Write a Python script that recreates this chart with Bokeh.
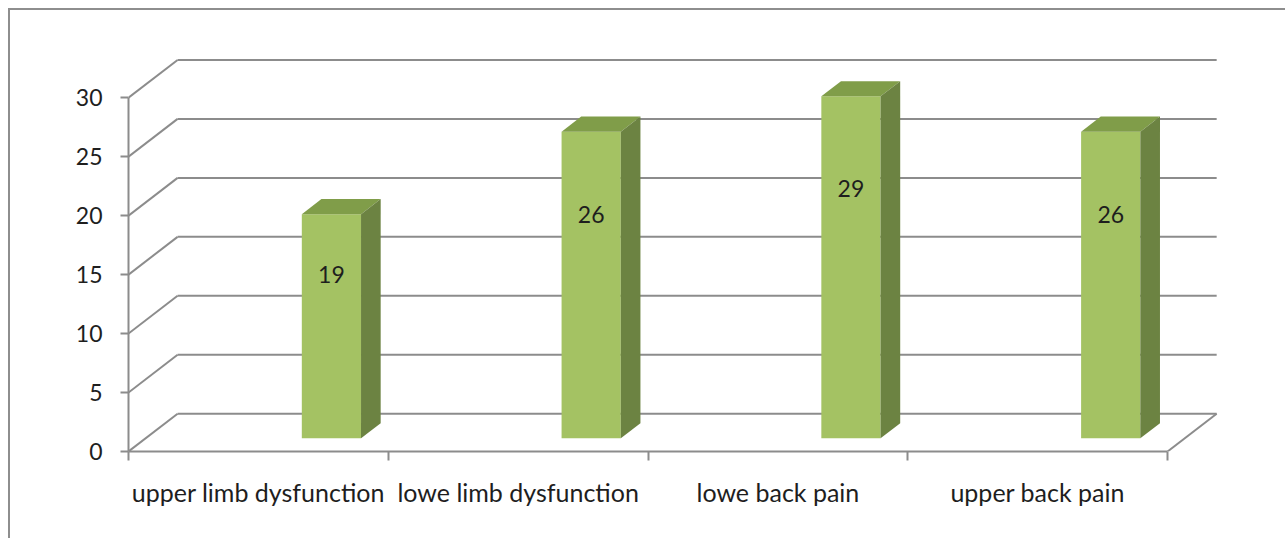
import numpy as np
from bokeh.plotting import figure
from bokeh.models import Range1d, FixedTicker
from bokeh.core.properties import value
from bokeh.embed import file_html
from bokeh.resources import INLINE

# ---- data ----
categories = ["upper limb dysfunction", "lowe limb dysfunction", "lowe back pain", "upper back pain"]
counts = [19, 26, 29, 26]
y_ticks = [0, 5, 10, 15, 20, 25, 30]

# ---- style / projection (oblique 3-D look) ----
DX, DY = 0.189, 3.2          # depth vector in data units
F1, F2 = 0.35, 0.75          # bar front / back depth fractions
BAR_SHIFT = 0.215            # bar offset from category centre
BAR_W = 0.228
LABEL_FRAC = 0.73
GRID = "#8C8C8C"
FRONT, TOP, SIDE = "#A4C263", "#809D49", "#6C8342"
FONT = "Lato"
FS = "23px"
FS_CAT = "25px"
TXT = "#1E1E1E"

n = len(categories)
x_max = float(n)
y_max = float(max(y_ticks))

p = figure(width=1277, height=530, output_backend="svg", toolbar_location=None,
           x_range=Range1d(0, x_max + 0.3), y_range=Range1d(0, 34.0),
           min_border_left=118, min_border_right=42, min_border_top=40, min_border_bottom=89,
           styles={"border-left": "2px solid #8E8E8E", "border-top": "2px solid #8E8E8E",
                   "box-sizing": "border-box", "margin-left": "8px", "margin-top": "8px"})
p.outline_line_color = None
p.xgrid.visible = False
p.ygrid.visible = False
p.background_fill_color = "white"
p.border_fill_color = "white"

# back wall grid lines and left wall diagonals
yt = np.array(y_ticks, dtype=float)
p.segment(x0=np.full(len(yt), DX), y0=yt + DY, x1=np.full(len(yt), x_max + DX), y1=yt + DY,
          line_color=GRID, line_width=2)
p.segment(x0=np.zeros(len(yt)), y0=yt, x1=np.full(len(yt), DX), y1=yt + DY,
          line_color=GRID, line_width=2)
# floor right edge
p.segment(x0=[x_max], y0=[0.0], x1=[x_max + DX], y1=[DY], line_color=GRID, line_width=2)

# bars
idx = np.arange(n)
vals = np.array(counts, dtype=float)
centre = idx + 0.5 + BAR_SHIFT
fl = centre - BAR_W / 2 + F1 * DX
fr = centre + BAR_W / 2 + F1 * DX
fb = np.full(n, F1 * DY)
ft = vals + F1 * DY
ddx = (F2 - F1) * DX
ddy = (F2 - F1) * DY

p.quad(left=fl, right=fr, bottom=fb, top=ft, fill_color=FRONT, line_color=None)
top_xs = [[a, b, b + ddx, a + ddx] for a, b in zip(fl, fr)]
top_ys = [[t, t, t + ddy, t + ddy] for t in ft]
p.patches(xs=top_xs, ys=top_ys, fill_color=TOP, line_color=None)
side_xs = [[b, b, b + ddx, b + ddx] for b in fr]
side_ys = [[bb, t, t + ddy, bb + ddy] for bb, t in zip(fb, ft)]
p.patches(xs=side_xs, ys=side_ys, fill_color=SIDE, line_color=None)

# value labels
p.text(x=centre + F1 * DX, y=F1 * DY + LABEL_FRAC * vals, text=[str(c) for c in counts],
       text_align="center", text_baseline="middle", text_font=value(FONT),
       text_font_size=FS, text_color=TXT)

# axes
ya = p.yaxis[0]
ya.ticker = FixedTicker(ticks=y_ticks)
ya.bounds = (0, y_max)
ya.axis_line_color = GRID
ya.axis_line_width = 2
ya.major_tick_line_color = GRID
ya.major_tick_line_width = 2
ya.major_tick_out = 8
ya.major_tick_in = 0
ya.minor_tick_line_color = None
ya.major_label_standoff = 18
ya.major_label_text_font = FONT
ya.major_label_text_font_size = FS
ya.major_label_text_color = TXT

xa = p.xaxis[0]
centres = [i + 0.5 for i in range(n)]
xa.ticker = FixedTicker(ticks=centres, minor_ticks=list(range(n + 1)))
xa.major_label_overrides = {c: lab for c, lab in zip(centres, categories)}
xa.bounds = (0, x_max)
xa.axis_line_color = GRID
xa.axis_line_width = 2
xa.major_tick_line_color = None
xa.minor_tick_line_color = GRID
xa.minor_tick_line_width = 2
xa.minor_tick_out = 9
xa.minor_tick_in = 0
xa.major_label_standoff = 16
xa.major_label_text_font = FONT
xa.major_label_text_font_size = FS_CAT
xa.major_label_text_color = TXT

open("out.html", "w").write(file_html(p, INLINE))
